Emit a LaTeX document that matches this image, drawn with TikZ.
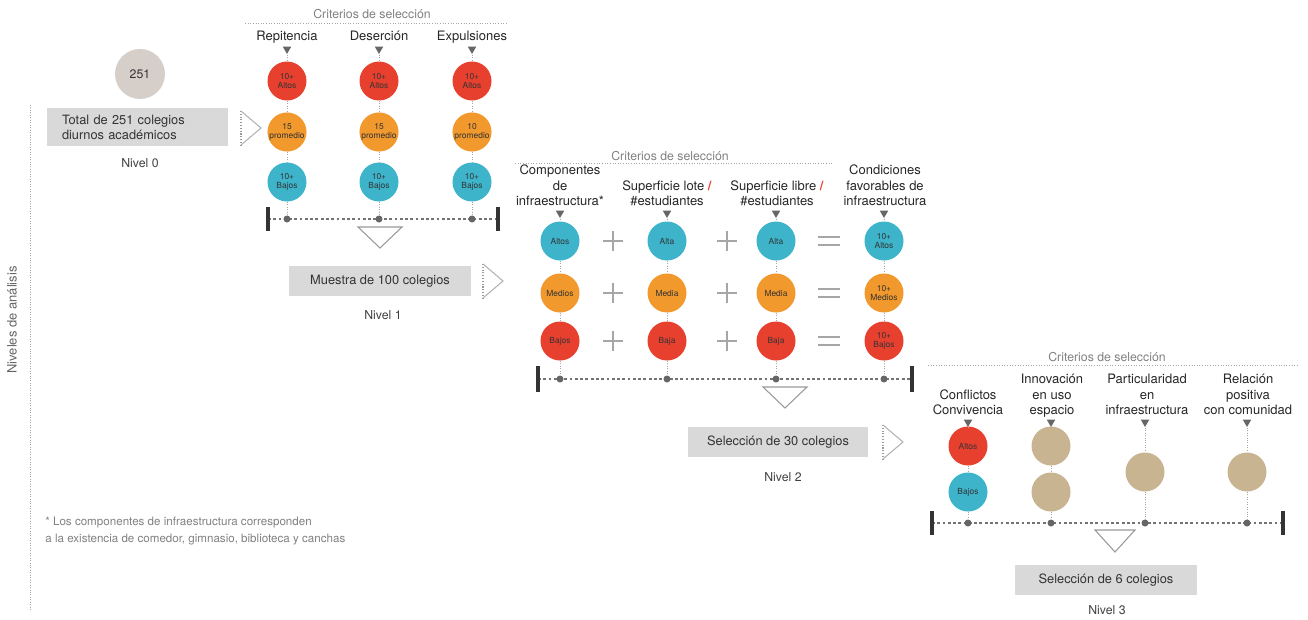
\documentclass[tikz,border=0pt]{standalone}
\usepackage{fontspec}
\setmainfont{TeX Gyre Heros}
\usetikzlibrary{shapes.geometric}

\definecolor{rojo}{HTML}{E8402F}
\definecolor{naranja}{HTML}{F2992E}
\definecolor{celeste}{HTML}{3DB4CA}
\definecolor{arena}{HTML}{C9B491}
\definecolor{piedra}{HTML}{D6CEC9}
\definecolor{gris}{HTML}{D9D9D9}

\tikzset{
	bola/.style={circle, minimum size=0.78cm, inner sep=0pt, align=center, font=\fontsize{4.8}{5.4}\selectfont, text=black!80},
	marca/.style={regular polygon, regular polygon sides=3, shape border rotate=180, fill=black!60, inner sep=0pt, minimum size=0.2cm},
	punto/.style={circle, fill=black!60, inner sep=0pt, minimum size=0.14cm},
	caja/.style={fill=gris, inner sep=0pt, font=\fontsize{7.3}{8.6}\selectfont, text=black!80},
	guia/.style={densely dotted, black!35, line width=0.4pt},
	base/.style={dash pattern=on 1.6pt off 1.4pt, black!55, line width=0.9pt},
	barra/.style={line width=2.2pt, black!80},
	regla/.style={densely dotted, black!35, line width=0.5pt},
	criterio/.style={font=\fontsize{7}{8}\selectfont, text=black!50},
	cabeza/.style={font=\fontsize{7.4}{8.6}\selectfont, align=center, text=black!85, inner sep=0pt, execute at end node={\strut}},
	nivel/.style={font=\fontsize{7}{8}\selectfont, text=black!75},
	flecha/.style={black!40, line width=0.6pt},
	signo/.style={black!35, line width=0.7pt}
}

\begin{document}
\begin{tikzpicture}[x=0.02cm, y=-0.02cm]

\def\ancho{1308}
\def\alto{619}

\path [use as bounding box] (0,0) rectangle (\ancho,\alto);

% NIVELES
\draw [guia] (30,105) -- (30,610);
\node [rotate=90, font=\fontsize{7.4}{8}\selectfont, text=black!60] (niveles) at (12,320) {Niveles de análisis};

% NIVEL 0
\node [bola, fill=piedra, minimum size=1cm, font=\fontsize{7}{8}\selectfont] (c251) at (140,74) {251};
\node [caja, minimum width=3.62cm, minimum height=0.76cm, text width=3.02cm, align=left] (caja0) at (137.5,127) {Total de 251 colegios\\diurnos académicos};
\node [nivel] (nivel0) at (140,163) {Nivel 0};
\coordinate (fa0) at (241,128);
\draw [flecha, densely dotted] (fa0) ++(0,-17) -- ++(0,34);
\draw [flecha, black!30] (fa0) ++(0,-17) -- ++(20,17) -- ++(-20,17);

% NIVEL 1
\node [criterio] (crit1) at (372,14) {Criterios de selección};
\draw [regla] (245,23) -- (508,23);
\node [cabeza] (repi) at (287,37) {Repitencia};
\node [cabeza] (dese) at (379,37) {Deserción};
\node [cabeza] (expu) at (472,37) {Expulsiones};
\node [marca] (m1a) at (287,49) {};
\node [marca] (m1b) at (379,49) {};
\node [marca] (m1c) at (472,49) {};
\node [bola, fill=rojo] (r1a) at (287,81) {10+\\Altos};
\node [bola, fill=rojo] (r1b) at (379,81) {10+\\Altos};
\node [bola, fill=rojo] (r1c) at (472,81) {10+\\Altos};
\node [bola, fill=naranja] (o1a) at (287,132) {15\\promedio};
\node [bola, fill=naranja] (o1b) at (379,132) {15\\promedio};
\node [bola, fill=naranja] (o1c) at (472,132) {10\\promedio};
\node [bola, fill=celeste] (b1a) at (287,182) {10+\\Bajos};
\node [bola, fill=celeste] (b1b) at (379,182) {10+\\Bajos};
\node [bola, fill=celeste] (b1c) at (472,182) {10+\\Bajos};
\coordinate (bi1) at (268,219);
\coordinate (bd1) at (498,219);
\draw [base] (bi1) -- (bd1);
\draw [barra] (bi1) +(0,-12) -- +(0,12);
\draw [barra] (bd1) +(0,-12) -- +(0,12);
\node [punto] (p1a) at (287,219) {};
\node [punto] (p1b) at (379,219) {};
\node [punto] (p1c) at (472,219) {};
\draw [guia] (m1a) -- (r1a) (r1a) -- (o1a) (o1a) -- (b1a) (b1a) -- (p1a);
\draw [guia] (m1b) -- (r1b) (r1b) -- (o1b) (o1b) -- (b1b) (b1b) -- (p1b);
\draw [guia] (m1c) -- (r1c) (r1c) -- (o1c) (o1c) -- (b1c) (b1c) -- (p1c);
\coordinate (tri1) at (380,227);
\draw [flecha] (tri1) ++(-22,0) -- ++(44,0) -- ++(-22,21) -- cycle;
\node [caja, minimum width=3.66cm, minimum height=0.6cm] (caja1) at (380,281) {Muestra de 100 colegios};
\node [nivel] (nivel1) at (383,315) {Nivel 1};
\coordinate (fa1) at (483,281);
\draw [flecha, densely dotted] (fa1) ++(0,-17) -- ++(0,34);
\draw [flecha, black!30] (fa1) ++(0,-17) -- ++(20,17) -- ++(-20,17);

% NIVEL 2
\node [criterio] (crit2) at (670,156) {Criterios de selección};
\draw [regla] (515,163) -- (832,163);
\node [cabeza, anchor=south] (comp) at (560,210) {Componentes\\de\\infraestructura*};
\node [cabeza, anchor=south] (lote) at (667,210) {Superficie lote {\color{rojo}\textbf{/}}\\\#estudiantes};
\node [cabeza, anchor=south] (libre) at (777,210) {Superficie libre {\color{rojo}\textbf{/}}\\\#estudiantes};
\node [cabeza, anchor=south] (cond) at (885,210) {Condiciones\\favorables de\\infraestructura};
\node [marca] (m2a) at (560,213) {};
\node [marca] (m2b) at (667,213) {};
\node [marca] (m2c) at (776,213) {};
\node [marca] (m2d) at (884,213) {};
\node [bola, fill=celeste] (a2a) at (560,241) {Altos};
\node [bola, fill=celeste] (a2b) at (667,241) {Alta};
\node [bola, fill=celeste] (a2c) at (776,241) {Alta};
\node [bola, fill=celeste] (a2d) at (884,241) {10+\\Altos};
\node [bola, fill=naranja] (o2a) at (560,293) {Medios};
\node [bola, fill=naranja] (o2b) at (667,293) {Media};
\node [bola, fill=naranja] (o2c) at (776,293) {Media};
\node [bola, fill=naranja] (o2d) at (884,293) {10+\\Medios};
\node [bola, fill=rojo] (r2a) at (560,341) {Bajos};
\node [bola, fill=rojo] (r2b) at (667,341) {Baja};
\node [bola, fill=rojo] (r2c) at (776,341) {Baja};
\node [bola, fill=rojo] (r2d) at (884,341) {10+\\Bajos};
% SIGNOS
\coordinate (mas1) at (613,241);
\coordinate (mas2) at (613,293);
\coordinate (mas3) at (613,341);
\coordinate (mas4) at (727,241);
\coordinate (mas5) at (727,293);
\coordinate (mas6) at (727,341);
\coordinate (igual1) at (829,241);
\coordinate (igual2) at (829,293);
\coordinate (igual3) at (829,341);
\draw [signo] (mas1) +(-10,0) -- +(10,0) +(0,-10) -- +(0,10);
\draw [signo] (mas2) +(-10,0) -- +(10,0) +(0,-10) -- +(0,10);
\draw [signo] (mas3) +(-10,0) -- +(10,0) +(0,-10) -- +(0,10);
\draw [signo] (mas4) +(-10,0) -- +(10,0) +(0,-10) -- +(0,10);
\draw [signo] (mas5) +(-10,0) -- +(10,0) +(0,-10) -- +(0,10);
\draw [signo] (mas6) +(-10,0) -- +(10,0) +(0,-10) -- +(0,10);
\draw [signo] (igual1) +(-11,-4) -- +(11,-4) +(-11,4) -- +(11,4);
\draw [signo] (igual2) +(-11,-4) -- +(11,-4) +(-11,4) -- +(11,4);
\draw [signo] (igual3) +(-11,-4) -- +(11,-4) +(-11,4) -- +(11,4);
\coordinate (bi2) at (538,379);
\coordinate (bd2) at (912,379);
\draw [base] (bi2) -- (bd2);
\draw [barra] (bi2) +(0,-13) -- +(0,13);
\draw [barra] (bd2) +(0,-13) -- +(0,13);
\node [punto] (p2a) at (560,379) {};
\node [punto] (p2b) at (667,379) {};
\node [punto] (p2c) at (776,379) {};
\node [punto] (p2d) at (884,379) {};
\draw [guia] (m2a) -- (a2a) (a2a) -- (o2a) (o2a) -- (r2a) (r2a) -- (p2a);
\draw [guia] (m2b) -- (a2b) (a2b) -- (o2b) (o2b) -- (r2b) (r2b) -- (p2b);
\draw [guia] (m2c) -- (a2c) (a2c) -- (o2c) (o2c) -- (r2c) (r2c) -- (p2c);
\draw [guia] (m2d) -- (a2d) (a2d) -- (o2d) (o2d) -- (r2d) (r2d) -- (p2d);
\coordinate (tri2) at (785,387);
\draw [flecha] (tri2) ++(-22,0) -- ++(44,0) -- ++(-22,21) -- cycle;
\node [caja, minimum width=3.6cm, minimum height=0.6cm] (caja2) at (778,442) {Selección de 30 colegios};
\node [nivel] (nivel2) at (783,477) {Nivel 2};
\coordinate (fa2) at (883,442);
\draw [flecha, densely dotted] (fa2) ++(0,-17) -- ++(0,34);
\draw [flecha, black!30] (fa2) ++(0,-17) -- ++(20,17) -- ++(-20,17);

% NIVEL 3
\node [criterio] (crit3) at (1107,357) {Criterios de selección};
\draw [regla] (928,365) -- (1298,365);
\node [cabeza, anchor=south] (conf) at (968,419) {Conflictos\\Convivencia};
\node [cabeza, anchor=south] (inno) at (1052,419) {Innovación\\en uso\\espacio};
\node [cabeza, anchor=south] (part) at (1147,419) {Particularidad\\en\\infraestructura};
\node [cabeza, anchor=south] (rela) at (1248,419) {Relación\\positiva\\con comunidad};
\node [marca] (m3a) at (968,422) {};
\node [marca] (m3b) at (1051,422) {};
\node [marca] (m3c) at (1145,422) {};
\node [marca] (m3d) at (1247,422) {};
\node [bola, fill=rojo] (r3a) at (968,446) {Altos};
\node [bola, fill=celeste] (b3a) at (968,492) {Bajos};
\node [bola, fill=arena] (s3a) at (1051,446) {};
\node [bola, fill=arena] (s3b) at (1051,492) {};
\node [bola, fill=arena] (s3c) at (1145,472) {};
\node [bola, fill=arena] (s3d) at (1247,472) {};
\coordinate (bi3) at (932,523);
\coordinate (bd3) at (1283,523);
\draw [base] (bi3) -- (bd3);
\draw [barra] (bi3) +(0,-12) -- +(0,12);
\draw [barra] (bd3) +(0,-12) -- +(0,12);
\node [punto] (p3a) at (968,523) {};
\node [punto] (p3b) at (1051,523) {};
\node [punto] (p3c) at (1145,523) {};
\node [punto] (p3d) at (1247,523) {};
\draw [guia] (m3a) -- (r3a) (r3a) -- (b3a) (b3a) -- (p3a);
\draw [guia] (m3b) -- (s3a) (s3a) -- (s3b) (s3b) -- (p3b);
\draw [guia] (m3c) -- (s3c) (s3c) -- (p3c);
\draw [guia] (m3d) -- (s3d) (s3d) -- (p3d);
\coordinate (tri3) at (1115,530);
\draw [flecha] (tri3) ++(-20,0) -- ++(40,0) -- ++(-20,22) -- cycle;
\node [caja, minimum width=3.64cm, minimum height=0.6cm] (caja3) at (1106,580) {Selección de 6 colegios};
\node [nivel] (nivel3) at (1107,610) {Nivel 3};

% NOTA
\node [anchor=west, align=left, inner sep=0pt, font=\fontsize{6.6}{9.4}\selectfont, text=black!50] (nota) at (45,531) {* Los componentes de infraestructura corresponden\\a la existencia de comedor, gimnasio, biblioteca y canchas};

\end{tikzpicture}
\end{document}
